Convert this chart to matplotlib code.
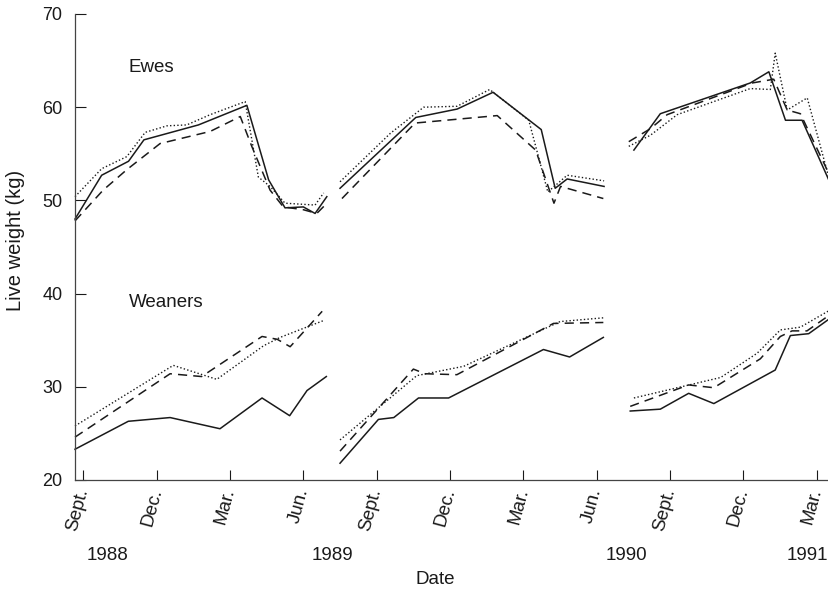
import matplotlib
matplotlib.use("Agg")
import matplotlib.pyplot as plt

plt.rcParams['font.family'] = ['Liberation Sans', 'DejaVu Sans']

# x = months since Sept. 1988, y = live weight (kg)
# three groups: a (solid), b (dashed), c (dotted); each split into 3 seasons

# --- Ewes ---
ewes_a_x = [[-0.34, 0.75, 1.85, 2.48, 4.71, 6.69, 7.58, 8.25, 9.0, 9.48, 9.96],
            [10.5, 13.6, 15.29, 16.76, 18.73, 19.3, 19.79, 21.3],
            [22.52, 23.6, 27.28, 28.04, 28.72, 29.4, 30.49]]
ewes_a_y = [[48.0, 52.7, 54.2, 56.5, 58.1, 60.2, 52.2, 49.2, 49.3, 48.6, 50.4],
            [51.3, 58.9, 59.8, 61.6, 57.6, 51.3, 52.3, 51.5],
            [55.4, 59.3, 62.6, 63.8, 58.6, 58.6, 52.2]]

ewes_b_x = [[-0.34, 0.81, 1.78, 3.14, 5.19, 6.42, 6.89, 7.64, 8.18, 9.0, 9.55, 9.89],
            [10.58, 13.57, 16.93, 18.5, 19.25, 19.52, 21.27],
            [22.31, 23.2, 23.88, 27.36, 28.24, 28.79, 29.33, 30.49]]
ewes_b_y = [[47.8, 51.1, 53.3, 56.1, 57.4, 59.0, 55.8, 51.1, 49.3, 49.0, 48.6, 49.5],
            [50.2, 58.3, 59.1, 55.4, 49.7, 51.5, 50.2],
            [56.3, 57.7, 59.2, 62.6, 63.0, 59.7, 59.3, 52.9]]

ewes_c_x = [[-0.34, 0.75, 1.78, 2.53, 3.42, 4.23, 5.19, 6.62, 7.16, 7.64, 8.25, 9.48, 9.83],
            [10.5, 12.56, 13.92, 15.29, 16.62, 18.22, 19.0, 19.79, 21.3],
            [22.31, 23.2, 24.29, 27.28, 28.1, 28.3, 28.79, 29.61, 30.49]]
ewes_c_y = [[50.4, 53.4, 54.7, 57.3, 58.0, 58.1, 59.2, 60.6, 52.5, 51.5, 49.7, 49.5, 50.8],
            [52.0, 57.2, 60.0, 60.1, 61.9, 58.6, 50.9, 52.7, 52.1],
            [55.8, 57.0, 59.2, 62.0, 61.9, 65.8, 59.7, 61.0, 52.5]]

# --- Weaners ---
wean_a_x = [[-0.34, 1.84, 3.55, 5.59, 7.31, 8.44, 9.15, 9.94],
            [10.5, 12.07, 12.7, 13.71, 14.94, 18.82, 19.89, 21.27],
            [22.37, 23.6, 24.76, 25.79, 28.3, 28.92, 29.67, 30.52]]
wean_a_y = [[23.3, 26.3, 26.7, 25.5, 28.8, 26.9, 29.6, 31.1],
            [21.8, 26.5, 26.7, 28.8, 28.8, 34.0, 33.2, 35.3],
            [27.4, 27.6, 29.3, 28.2, 31.8, 35.5, 35.7, 37.3]]

wean_b_x = [[-0.34, 3.55, 4.84, 7.31, 7.93, 8.46, 9.77],
            [10.5, 13.5, 13.98, 15.28, 19.23, 21.27],
            [22.37, 24.76, 25.79, 27.69, 28.51, 28.99, 29.6, 30.52]]
wean_b_y = [[24.6, 31.4, 31.1, 35.4, 35.1, 34.3, 38.1],
            [23.1, 31.9, 31.4, 31.3, 36.8, 36.9],
            [27.9, 30.2, 29.9, 33.0, 35.4, 36.0, 36.0, 37.7]]

wean_c_x = [[-0.34, 3.68, 5.46, 7.37, 8.05, 9.82],
            [10.5, 13.64, 15.56, 19.5, 21.27],
            [22.52, 26.07, 27.56, 28.51, 29.33, 30.52]]
wean_c_y = [[25.8, 32.3, 30.8, 34.4, 35.3, 37.1],
            [24.3, 31.2, 32.2, 37.0, 37.4],
            [28.8, 31.0, 33.6, 36.1, 36.4, 38.2]]

month_ticks = [0, 3, 6, 9, 12, 15, 18, 21, 24, 27, 30]
month_labels = ['Sept.', 'Dec.', 'Mar.', 'Jun.'] * 2 + ['Sept.', 'Dec.', 'Mar.']
year_labels = ['1988', '1989', '1990', '1991']
year_pos = [1.0, 10.2, 22.2, 29.6]

fig = plt.figure(figsize=(8.29, 5.97), dpi=100)
ax = fig.add_axes([75 / 829, 1 - 480 / 597, 1 - 75 / 829, 466 / 597])

ink = '#1a1a1a'
styles = [dict(ls='-', lw=1.1), dict(ls=(0, (6, 4)), lw=1.1), dict(ls=(0, (1, 1.6)), lw=1.0)]
for xs, ys, st in [(ewes_a_x, ewes_a_y, styles[0]), (ewes_b_x, ewes_b_y, styles[1]),
                   (ewes_c_x, ewes_c_y, styles[2]), (wean_a_x, wean_a_y, styles[0]),
                   (wean_b_x, wean_b_y, styles[1]), (wean_c_x, wean_c_y, styles[2])]:
    for sx, sy in zip(xs, ys):
        ax.plot(sx, sy, color=ink, clip_on=False, **st)

ax.set_xlim(-0.34, 30.5)
ax.set_ylim(20, 70)
ax.set_yticks([20, 30, 40, 50, 60, 70])
ax.set_xticks(month_ticks)
ax.set_xticklabels(month_labels, rotation=75, ha='right', va='center', rotation_mode='anchor')
ax.tick_params(axis='y', direction='in', length=8, width=0.8, pad=9, labelsize=13, colors=ink)
ax.tick_params(axis='x', direction='in', length=7, width=0.8, pad=6, labelsize=13.5, colors=ink)
for s in ['top', 'right']:
    ax.spines[s].set_visible(False)
for s in ['left', 'bottom']:
    ax.spines[s].set_color('#444444')
    ax.spines[s].set_linewidth(0.9)

ax.text(1.85, 64.3, 'Ewes', fontsize=13.5, va='center', color=ink)
ax.text(1.85, 39.0, 'Weaners', fontsize=13.5, va='center', color=ink)

for lab, xp in zip(year_labels, year_pos):
    ax.annotate(lab, xy=(xp, 0), xycoords=('data', 'axes fraction'), xytext=(0, -75),
                textcoords='offset pixels', ha='center', va='center', fontsize=13.5, color=ink)

fig.text(435 / 829, 1 - 580 / 597, 'Date', ha='center', va='center', fontsize=13.5, color=ink)
fig.text(16 / 829, 1 - 240 / 597, 'Live weight (kg)', rotation=90, ha='center', va='center',
         fontsize=14.5, color=ink)

fig.savefig('out.png', dpi=100)
